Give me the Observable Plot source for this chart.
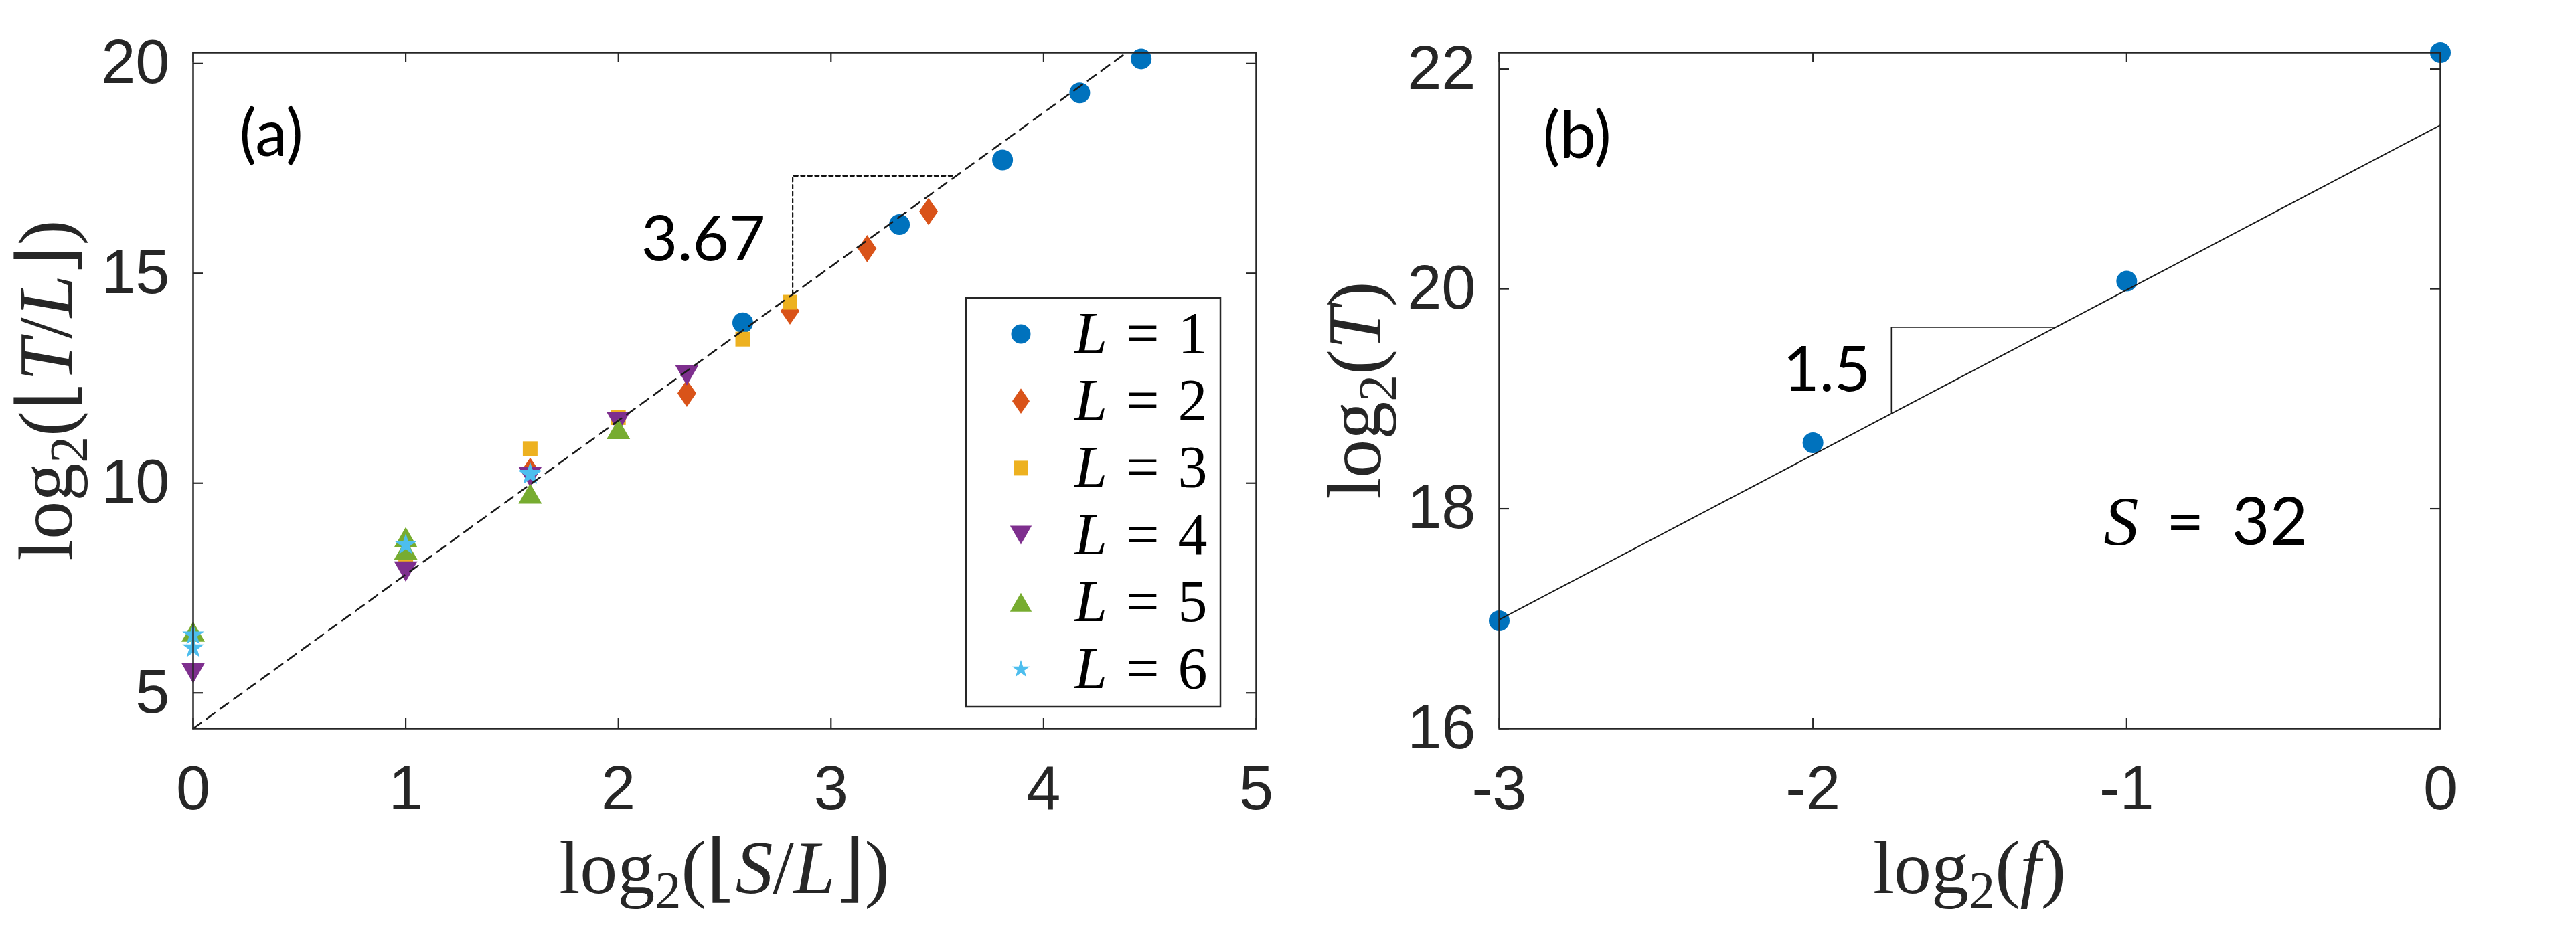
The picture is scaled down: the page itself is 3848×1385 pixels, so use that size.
<!DOCTYPE html>
<html><head><meta charset="utf-8">
<script src="https://cdn.jsdelivr.net/npm/d3@7"></script>
<script src="https://cdn.jsdelivr.net/npm/@observablehq/plot@0.6"></script>
<style>
html,body{margin:0;padding:0;background:#fff;}
#wrap{position:relative;width:3848px;height:1385px;overflow:hidden;background:#fff;}
#wrap > svg{position:absolute;top:0;}
</style></head><body><div id="wrap"></div>
<script>
// ---------------- data: panel (a) ----------------
const seriesNames = ["L = 1", "L = 2", "L = 3", "L = 4", "L = 5", "L = 6"];
// x = log2(floor(S/L)), y = log2(floor(T/L))
const L1x = [2.585, 3.322, 3.807, 4.170, 4.459];
const L1y = [13.82, 16.16, 17.70, 19.30, 20.11];
const L2x = [1.585, 2.322, 2.807, 3.170, 3.459];
const L2y = [10.28, 12.14, 14.10, 15.59, 16.47];
const L3x = [1, 1.585, 2, 2.585, 2.807];
const L3y = [8.18, 10.82, 11.56, 13.43, 14.31];
const L4x = [0, 1, 1.585, 2, 2.322];
const L4y = [5.47, 7.89, 10.15, 11.45, 12.57];
const L5x = [0, 1, 1, 1.585, 2];
const L5y = [6.46, 8.71, 8.42, 9.75, 11.29];
const L6x = [0, 0, 1, 1.585, 1.585];
const L6y = [6.38, 6.07, 8.53, 10.23, 10.20];
const fitAx = [0, 4.39];
const fitAy = [4.15, 20.26];
const slopeAx = [2.82, 2.82, 3.57];
const slopeAy = [14.50, 17.32, 17.32];
const xTicksA = [0, 1, 2, 3, 4, 5];
const yTicksA = [5, 10, 15, 20];
const xDomainA = [0, 5];
const yDomainA = [4.15, 20.26];

// ---------------- data: panel (b) ----------------
const bX = [-3, -2, -1, 0];
const bY = [16.98, 18.60, 20.07, 22.15];
const fitBx = [-3, 0];
const fitBy = [16.99, 21.49];
const slopeBx = [-1.75, -1.75, -1.233];
const slopeBy = [18.875, 19.65, 19.65];
const xTicksB = [-3, -2, -1, 0];
const yTicksB = [16, 18, 20, 22];
const xDomainB = [-3, 0];
const yDomainB = [16, 22.15];

// annotations
const annAstart = [{x: 0.217, y: 17.80, t: "(a)"}];
const annAend = [{x: 2.692, y: 15.30, t: "3.67"}];
const annBstart = [{x: -2.861, y: 21.19, t: "(b)"}];
const annBend = [{x: -1.816, y: 19.07, t: "1.5"}];
const annBS = [{x: -1.073, y: 17.67, t: "S = 32"}];

// ---------------- styles ----------------
const triDown = {draw(ctx, size) { const s = Math.sqrt(size * 4 / Math.sqrt(3)), h = s * Math.sqrt(3) / 2;
  ctx.moveTo(-s / 2, -h / 2); ctx.lineTo(s / 2, -h / 2); ctx.lineTo(0, h / 2); ctx.closePath(); }};
const triUp = {draw(ctx, size) { const s = Math.sqrt(size * 4 / Math.sqrt(3)), h = s * Math.sqrt(3) / 2;
  ctx.moveTo(-s / 2, h / 2); ctx.lineTo(s / 2, h / 2); ctx.lineTo(0, -h / 2); ctx.closePath(); }};
const diamond = {draw(ctx, size) { const k = 1.45, w = Math.sqrt(2 * size / k), h = k * w;
  ctx.moveTo(0, -h / 2); ctx.lineTo(w / 2, 0); ctx.lineTo(0, h / 2); ctx.lineTo(-w / 2, 0); ctx.closePath(); }};
const styles = [
  {fill: "#0072BD", symbol: d3.symbolCircle, r: 15.5, lr: 14.5},
  {fill: "#D95319", symbol: diamond, r: 13.5, lr: 12.5},
  {fill: "#EDB120", symbol: d3.symbolSquare, r: 12.4, lr: 12.4},
  {fill: "#7E2F8E", symbol: triDown, r: 13, lr: 12},
  {fill: "#77AC30", symbol: triUp, r: 13, lr: 12},
  {fill: "#4DBEEE", symbol: d3.symbolStar, r: 10.2, lr: 8.4}
];
const INK = "#262626";
const tickFont = "'Liberation Sans', Arial, Helvetica, sans-serif";
const texFont = "'Liberation Serif', 'DejaVu Serif', serif";
const annFont = "Lato, 'Open Sans', sans-serif";

const seriesX = [L1x, L2x, L3x, L4x, L5x, L6x];
const seriesY = [L1y, L2y, L3y, L4y, L5y, L6y];
const rows = (xs, ys) => xs.map((x, i) => ({x, y: ys[i]}));

function insideTicks(xt, yt, innerW, innerH, len) {
  const o = {stroke: INK, strokeWidth: 2.2};
  return [
    Plot.tickX(xt, {x: d => d, insetTop: innerH - len, ...o}),
    Plot.tickX(xt, {x: d => d, insetBottom: innerH - len, ...o}),
    Plot.tickY(yt, {y: d => d, insetRight: innerW - len, ...o}),
    Plot.tickY(yt, {y: d => d, insetLeft: innerW - len, ...o})
  ];
}
const annText = (data, anchor, fs) => Plot.text(data, {x: "x", y: "y", text: "t", textAnchor: anchor,
  lineAnchor: "bottom", fontFamily: annFont, fontSize: fs, fill: "black"});

function texLabel(svg, x, y, rotate, parts, fs) {
  const t = d3.select(svg).append("text")
    .attr("transform", `translate(${x},${y})` + (rotate ? ` rotate(${rotate})` : ""))
    .attr("text-anchor", "middle").attr("font-family", texFont)
    .attr("font-size", fs).attr("fill", INK);
  for (const p of parts) {
    const ts = t.append("tspan").text(p.t);
    if (p.i) ts.attr("font-style", "italic");
    if (p.sub) ts.attr("font-size", fs * 0.7).attr("dy", fs * 0.2);
    if (p.up) ts.attr("dy", -fs * 0.2);
  }
}

const common = {height: 1385, marginTop: 78, marginBottom: 297,
  style: {fontSize: "92px", fontFamily: tickFont, color: INK, background: "white", overflow: "visible"}};

// ---------------- panel (a) ----------------
const WA = 1900, mLA = 288, mRA = 24;
const plotA = Plot.plot({
  ...common, width: WA, marginLeft: mLA, marginRight: mRA,
  x: {domain: xDomainA}, y: {domain: yDomainA},
  marks: [
    ...insideTicks(xTicksA, yTicksA, WA - mLA - mRA, 1385 - 78 - 297, 15),
    Plot.axisX(xTicksA, {tickSize: 0, tickPadding: 55, tickFormat: d => String(d), label: null}),
    Plot.axisY(yTicksA, {tickSize: 0, tickPadding: 35, tickFormat: d => String(d), label: null}),
    ...seriesX.map((xs, k) => Plot.dot(rows(xs, seriesY[k]), {x: "x", y: "y", fill: styles[k].fill, symbol: styles[k].symbol, r: styles[k].r, stroke: "none"})),
    Plot.line(rows(fitAx, fitAy), {x: "x", y: "y", stroke: "#1a1a1a", strokeWidth: 2.6, strokeDasharray: "15,10"}),
    Plot.line(rows(slopeAx, slopeAy), {x: "x", y: "y", stroke: "#111", strokeWidth: 2.2, strokeDasharray: "6,4.5"}),
    annText(annAstart, "start", 96),
    annText(annAend, "end", 94),
    Plot.frame({stroke: INK, strokeWidth: 2.5})
  ]
});
plotA.style.left = "0px";

// ---------------- panel (b) ----------------
const WB = 1948, mLB = 339, mRB = 203;
const plotB = Plot.plot({
  ...common, width: WB, marginLeft: mLB, marginRight: mRB,
  x: {domain: xDomainB}, y: {domain: yDomainB},
  marks: [
    ...insideTicks(xTicksB, yTicksB, WB - mLB - mRB, 1385 - 78 - 297, 15),
    Plot.axisX(xTicksB, {tickSize: 0, tickPadding: 55, tickFormat: d => String(d), label: null}),
    Plot.axisY(yTicksB, {tickSize: 0, tickPadding: 35, tickFormat: d => String(d), label: null}),
    Plot.dot(rows(bX, bY), {x: "x", y: "y", fill: styles[0].fill, symbol: styles[0].symbol, r: styles[0].r, stroke: "none"}),
    Plot.line(rows(fitBx, fitBy), {x: "x", y: "y", stroke: "#1a1a1a", strokeWidth: 2}),
    Plot.line(rows(slopeBx, slopeBy), {x: "x", y: "y", stroke: "#1a1a1a", strokeWidth: 1.6}),
    annText(annBstart, "start", 96),
    annText(annBend, "end", 94),
    annText(annBS, "start", 98),
    Plot.frame({stroke: INK, strokeWidth: 2.5})
  ]
});
plotB.style.left = WA + "px";

const wrap = document.getElementById("wrap");
wrap.appendChild(plotA);
wrap.appendChild(plotB);

// mixed-style "S = 32"
d3.select(plotB).selectAll("text").filter(function() { return this.textContent === annBS[0].t; }).each(function() {
  const s = d3.select(this); const txt = s.text(); s.text(null);
  s.attr("word-spacing", "16px");
  s.append("tspan").attr("font-family", texFont).attr("font-style", "italic").attr("font-size", 104).text(txt.slice(0, 1));
  s.append("tspan").text(txt.slice(1));
});

// axis labels (LaTeX-like)
function labels(plot, xParts, yParts, yOff) {
  const xr = plot.scale("x").range, yr = plot.scale("y").range;
  const cx = (xr[0] + xr[1]) / 2, cy = (yr[0] + yr[1]) / 2;
  texLabel(plot, cx, Math.max(...yr) + 246, 0, xParts, 112);
  texLabel(plot, Math.min(...xr) - yOff, cy, -90, yParts, 114);
}
labels(plotA,
  [{t: "log"}, {t: "2", sub: 1}, {t: "(⌊", up: 1}, {t: "S", i: 1}, {t: "/"}, {t: "L", i: 1}, {t: "⌋)"}],
  [{t: "log"}, {t: "2", sub: 1}, {t: "(⌊", up: 1}, {t: "T", i: 1}, {t: "/"}, {t: "L", i: 1}, {t: "⌋)"}], 181);
labels(plotB,
  [{t: "log"}, {t: "2", sub: 1}, {t: "(", up: 1}, {t: "f", i: 1}, {t: ")"}],
  [{t: "log"}, {t: "2", sub: 1}, {t: "(", up: 1}, {t: "T", i: 1}, {t: ")"}], 177);

// legend for panel (a)
(function legend() {
  const xr = plotA.scale("x").range, yr = plotA.scale("y").range;
  const right = Math.max(...xr) - 53, bottom = Math.max(...yr) - 32;
  const w = 380, h = 611, x0 = right - w, y0 = bottom - h;
  const g = d3.select(plotA).append("g").attr("aria-label", "legend");
  g.append("rect").attr("x", x0).attr("y", y0).attr("width", w).attr("height", h)
    .attr("fill", "white").attr("stroke", INK).attr("stroke-width", 2.5);
  seriesNames.forEach((name, i) => {
    const cy = y0 + 54 + i * 100.2;
    g.append("path").attr("transform", `translate(${x0 + 82},${cy})`)
      .attr("d", d3.symbol(styles[i].symbol, Math.PI * styles[i].lr ** 2)())
      .attr("fill", styles[i].fill);
    const t = g.append("text").attr("x", x0 + 162).attr("y", cy + 28)
      .attr("text-anchor", "start")
      .attr("font-family", texFont).attr("font-size", 88).attr("fill", "black")
      .attr("word-spacing", "6px");
    const parts = name.split(" ");
    t.append("tspan").attr("font-style", "italic").text(parts[0]);
    t.append("tspan").text(" " + parts.slice(1).join(" "));
  });
})();
</script></body></html>
